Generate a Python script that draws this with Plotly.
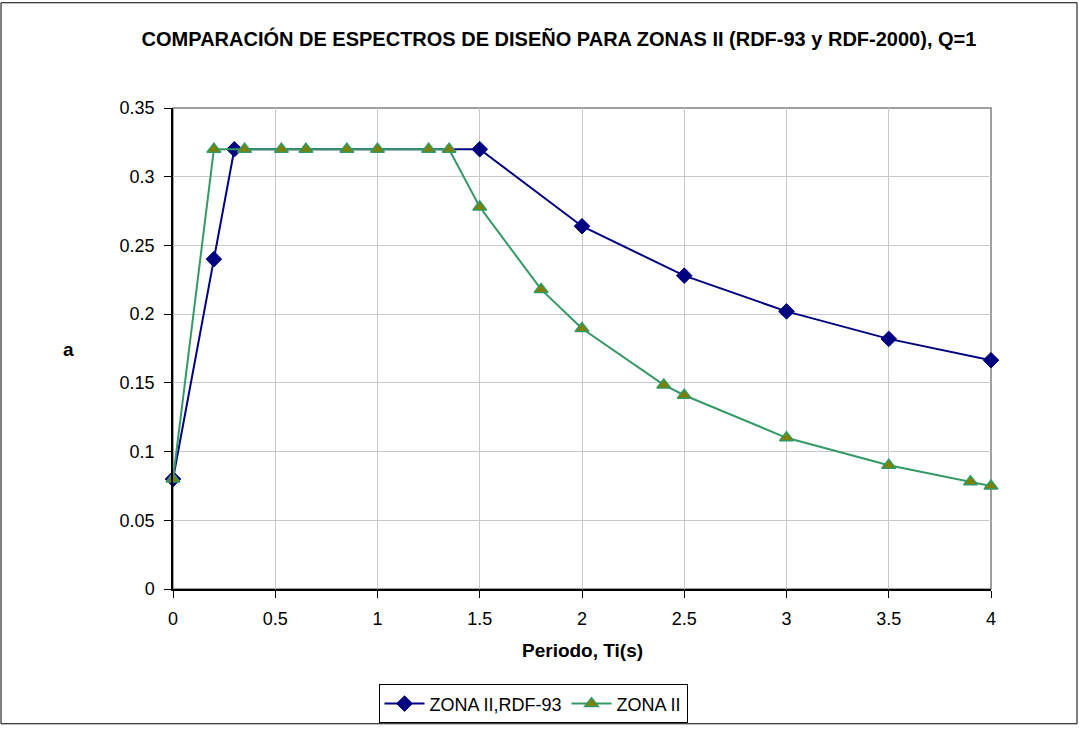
import plotly.graph_objects as go

# Data
t_rdf93 = [0, 0.2, 0.3, 1.5, 2.0, 2.5, 3.0, 3.5, 4.0]
a_rdf93 = [0.08, 0.24, 0.32, 0.32, 0.264, 0.228, 0.202, 0.182, 0.1665]

t_zona2 = [0, 0.2, 0.35, 0.53, 0.65, 0.85, 1.0, 1.25, 1.35, 1.5, 1.8, 2.0, 2.4, 2.5, 3.0, 3.5, 3.9, 4.0]
a_zona2 = [0.08, 0.32, 0.32, 0.32, 0.32, 0.32, 0.32, 0.32, 0.32, 0.278, 0.218, 0.1895, 0.1485, 0.141, 0.110, 0.090, 0.078, 0.075]

x_ticks = [0, 0.5, 1, 1.5, 2, 2.5, 3, 3.5, 4]
x_ticklabels = ["0", "0.5", "1", "1.5", "2", "2.5", "3", "3.5", "4"]
y_ticks = [0, 0.05, 0.1, 0.15, 0.2, 0.25, 0.3, 0.35]
y_ticklabels = ["0", "0.05", "0.1", "0.15", "0.2", "0.25", "0.3", "0.35"]

FONT = "Liberation Sans, Arial, sans-serif"

fig = go.Figure()
fig.add_trace(go.Scatter(
    x=t_rdf93, y=a_rdf93, mode="lines+markers", name="ZONA II,RDF-93",
    line=dict(color="#000080", width=2),
    marker=dict(symbol="diamond", size=12, color="#000080", line=dict(color="#000080", width=1)),
    cliponaxis=False,
))
fig.add_trace(go.Scatter(
    x=t_zona2, y=a_zona2, mode="lines+markers", name="ZONA II",
    line=dict(color="#339966", width=2),
    marker=dict(symbol="triangle-up", size=12, color="#808000", line=dict(color="#339966", width=1.5)),
    cliponaxis=False,
))

W, H = 1079, 736
L, R, T, B = 173, 88, 108, 139
pw, ph = W - L - R, H - T - B

def px2x(p):
    return (p - L) / pw

def py2y(p):
    return (H - B - p) / ph

fig.update_layout(
    width=W, height=H,
    margin=dict(l=L, r=R, t=T, b=B),
    paper_bgcolor="white", plot_bgcolor="white",
    font=dict(family=FONT, size=18, color="black"),
    title=dict(
        text="<b>COMPARACIÓN DE ESPECTROS DE DISEÑO PARA ZONAS II (RDF-93 y RDF-2000), Q=1</b>",
        x=559 / W, xanchor="center", y=1 - 39 / H, yanchor="middle",
        font=dict(family=FONT, size=20, color="black"),
    ),
    xaxis=dict(
        range=[0, 4], tickvals=x_ticks, ticktext=x_ticklabels,
        showgrid=True, gridcolor="#c8c8c8", gridwidth=1,
        showline=True, linecolor="black", linewidth=1.5,
        ticks="outside", ticklen=7, tickcolor="black",
        ticklabelstandoff=6,
        zeroline=False, tickfont=dict(size=18),
    ),
    yaxis=dict(
        range=[0, 0.35], tickvals=y_ticks, ticktext=y_ticklabels,
        showgrid=True, gridcolor="#c8c8c8", gridwidth=1,
        showline=True, linecolor="black", linewidth=1.5,
        ticks="outside", ticklen=7, tickcolor="black",
        ticklabelstandoff=6,
        zeroline=False, tickfont=dict(size=18),
    ),
    showlegend=True,
    legend=dict(
        orientation="h", x=px2x(533), xanchor="center", y=py2y(694), yanchor="top",
        bordercolor="black", borderwidth=1, bgcolor="white",
        font=dict(family=FONT, size=18),
        itemwidth=40,
    ),
    shapes=[
        dict(type="rect", xref="x domain", yref="y domain", x0=0, x1=1, y0=0, y1=1,
             line=dict(color="#808080", width=1.5), layer="below"),
        dict(type="rect", xref="paper", yref="paper",
             x0=px2x(1), x1=px2x(1077), y0=py2y(734), y1=py2y(1),
             line=dict(color="black", width=1)),
    ],
    annotations=[
        dict(text="<b>a</b>", xref="paper", yref="paper", x=px2x(68), y=py2y(354),
             showarrow=False, xanchor="center", yanchor="middle", font=dict(size=19)),
        dict(text="<b>Periodo, Ti(s)</b>", xref="paper", yref="paper", x=px2x(582), y=py2y(660),
             showarrow=False, xanchor="center", yanchor="middle", font=dict(size=19)),
    ],
)

fig.write_html(
    "out.html",
    config={"displayModeBar": False},
    post_script="document.body.style.margin='0px';document.body.style.overflow='hidden';",
)
